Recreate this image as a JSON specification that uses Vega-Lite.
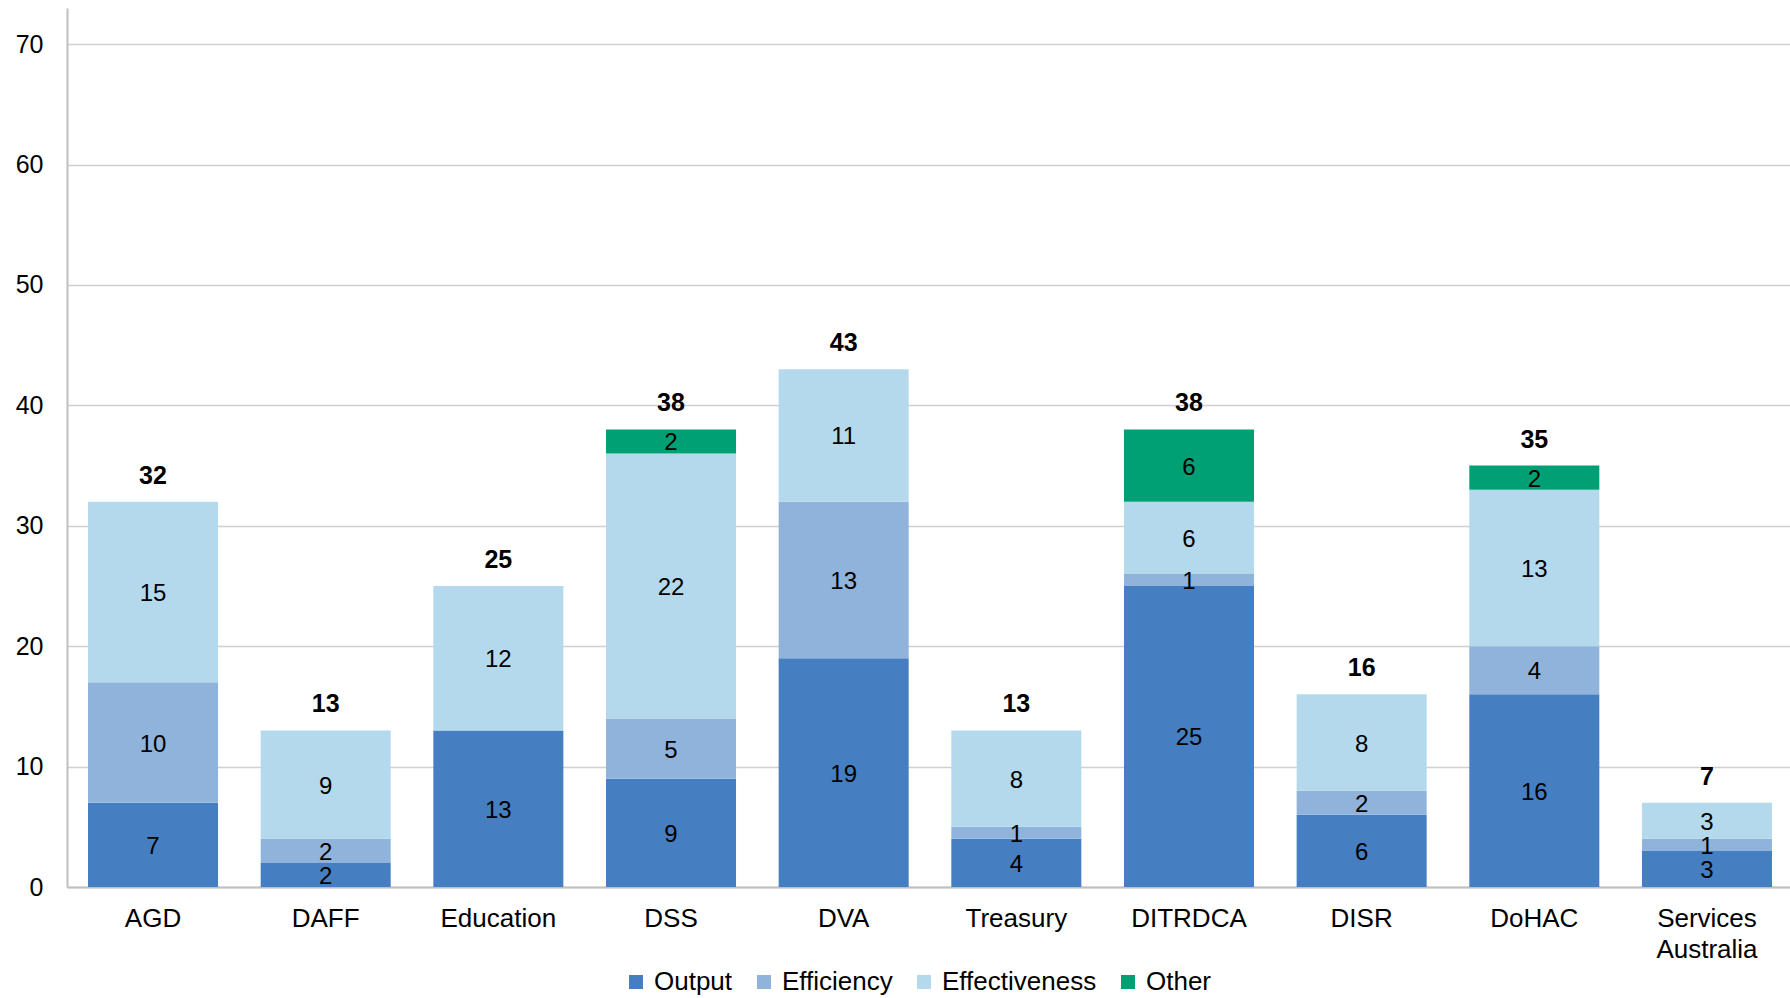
{
  "$schema": "https://vega.github.io/schema/vega-lite/v6.json",
  "width": 1726,
  "height": 879,
  "autosize": {"type": "none"},
  "padding": {"left": 67, "top": 8, "right": 0, "bottom": 111},
  "background": "white",
  "config": {
    "font": "Liberation Sans",
    "view": {"stroke": null}
  },
  "data": {
    "values": [
      {"dept": "AGD", "measure": "Output", "v": 7},
      {"dept": "AGD", "measure": "Efficiency", "v": 10},
      {"dept": "AGD", "measure": "Effectiveness", "v": 15},
      {"dept": "DAFF", "measure": "Output", "v": 2},
      {"dept": "DAFF", "measure": "Efficiency", "v": 2},
      {"dept": "DAFF", "measure": "Effectiveness", "v": 9},
      {"dept": "Education", "measure": "Output", "v": 13},
      {"dept": "Education", "measure": "Effectiveness", "v": 12},
      {"dept": "DSS", "measure": "Output", "v": 9},
      {"dept": "DSS", "measure": "Efficiency", "v": 5},
      {"dept": "DSS", "measure": "Effectiveness", "v": 22},
      {"dept": "DSS", "measure": "Other", "v": 2},
      {"dept": "DVA", "measure": "Output", "v": 19},
      {"dept": "DVA", "measure": "Efficiency", "v": 13},
      {"dept": "DVA", "measure": "Effectiveness", "v": 11},
      {"dept": "Treasury", "measure": "Output", "v": 4},
      {"dept": "Treasury", "measure": "Efficiency", "v": 1},
      {"dept": "Treasury", "measure": "Effectiveness", "v": 8},
      {"dept": "DITRDCA", "measure": "Output", "v": 25},
      {"dept": "DITRDCA", "measure": "Efficiency", "v": 1},
      {"dept": "DITRDCA", "measure": "Effectiveness", "v": 6},
      {"dept": "DITRDCA", "measure": "Other", "v": 6},
      {"dept": "DISR", "measure": "Output", "v": 6},
      {"dept": "DISR", "measure": "Efficiency", "v": 2},
      {"dept": "DISR", "measure": "Effectiveness", "v": 8},
      {"dept": "DoHAC", "measure": "Output", "v": 16},
      {"dept": "DoHAC", "measure": "Efficiency", "v": 4},
      {"dept": "DoHAC", "measure": "Effectiveness", "v": 13},
      {"dept": "DoHAC", "measure": "Other", "v": 2},
      {"dept": "Services Australia", "measure": "Output", "v": 3},
      {"dept": "Services Australia", "measure": "Efficiency", "v": 1},
      {"dept": "Services Australia", "measure": "Effectiveness", "v": 3}
    ]
  },
  "transform": [
    {"calculate": "indexof(['Output','Efficiency','Effectiveness','Other'], datum.measure)", "as": "ord"},
    {"stack": "v", "groupby": ["dept"], "sort": [{"field": "ord", "order": "ascending"}], "as": ["y0", "y1"]},
    {"calculate": "(datum.y0 + datum.y1) / 2", "as": "ymid"}
  ],
  "encoding": {
    "x": {
      "field": "dept",
      "type": "nominal",
      "sort": ["AGD", "DAFF", "Education", "DSS", "DVA", "Treasury", "DITRDCA", "DISR", "DoHAC", "Services Australia"],
      "scale": {"paddingInner": 0.247, "paddingOuter": 0.1217},
      "axis": {
        "title": null,
        "labelAngle": 0,
        "labelFontSize": 26,
        "labelColor": "#000000",
        "labelPadding": 18,
        "ticks": false,
        "domainColor": "#BFBFBF",
        "domainWidth": 2,
        "grid": false,
        "labelExpr": "datum.label == 'Services Australia' ? ['Services', 'Australia'] : datum.label",
        "labelLineHeight": 31
      }
    }
  },
  "layer": [
    {
      "mark": {"type": "bar"},
      "encoding": {
        "y": {
          "field": "y0",
          "type": "quantitative",
          "scale": {"domain": [0, 73], "nice": false},
          "axis": {
            "title": null,
            "values": [0, 10, 20, 30, 40, 50, 60, 70],
            "labelFontSize": 25,
            "labelColor": "#000000",
            "labelPadding": 24,
            "ticks": false,
            "domainColor": "#BFBFBF",
            "domainWidth": 2,
            "gridColor": "#D0D0D0",
            "gridWidth": 1.5
          }
        },
        "y2": {"field": "y1"},
        "color": {
          "field": "measure",
          "type": "nominal",
          "scale": {
            "domain": ["Output", "Efficiency", "Effectiveness", "Other"],
            "range": ["#457FC2", "#8FB3DB", "#B4D9EC", "#009F74"]
          },
          "legend": {
            "title": null,
            "orient": "none",
            "direction": "horizontal",
            "legendX": 556,
            "legendY": 961,
            "symbolType": "square",
            "symbolSize": 196,
            "symbolStrokeWidth": 0,
            "labelFontSize": 26,
            "labelColor": "#000000",
            "labelOffset": 5,
            "columnPadding": 18
          }
        }
      }
    },
    {
      "mark": {"type": "text", "fontSize": 24, "color": "#000000", "baseline": "middle", "dy": 2},
      "encoding": {
        "y": {"field": "ymid", "type": "quantitative"},
        "text": {"field": "v", "type": "quantitative"}
      }
    },
    {
      "transform": [{"aggregate": [{"op": "sum", "field": "v", "as": "total"}], "groupby": ["dept"]}],
      "mark": {"type": "text", "fontSize": 25, "fontWeight": "bold", "color": "#000000", "baseline": "alphabetic", "dy": -18},
      "encoding": {
        "y": {"field": "total", "type": "quantitative"},
        "text": {"field": "total", "type": "quantitative"}
      }
    }
  ]
}
